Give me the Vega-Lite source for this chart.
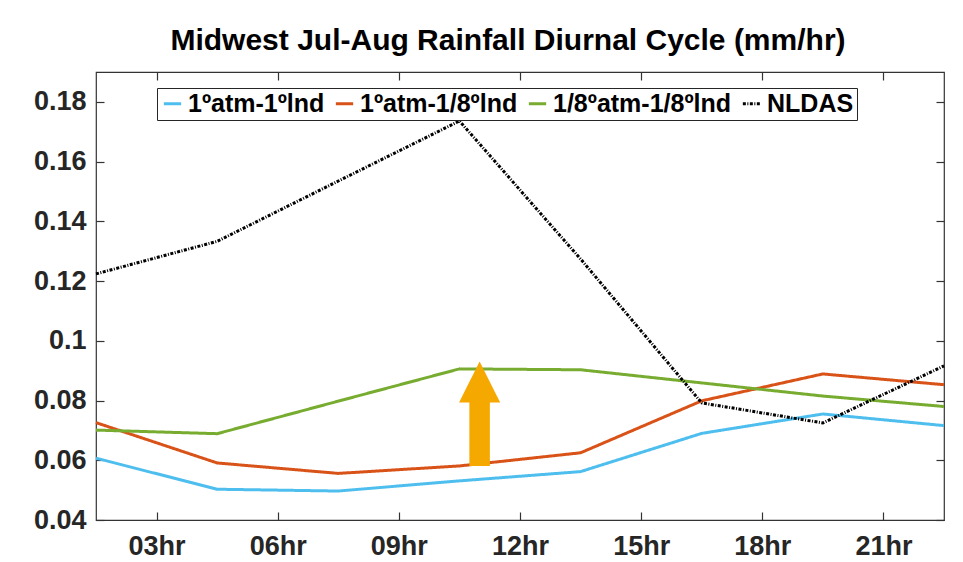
{
  "$schema": "https://vega.github.io/schema/vega-lite/v6.json",
  "autosize": {"type": "none"},
  "width": 848,
  "height": 448,
  "padding": {"left": 96, "top": 72, "right": 19, "bottom": 42},
  "background": "white",
  "title": {
    "text": "Midwest Jul-Aug Rainfall Diurnal Cycle (mm/hr)",
    "font": "Liberation Sans",
    "fontSize": 30,
    "fontWeight": "bold",
    "color": "black",
    "anchor": "middle",
    "dx": -12,
    "offset": 15
  },
  "config": {
    "view": {"stroke": "#333333", "strokeWidth": 1.2},
    "axis": {
      "grid": false,
      "domain": false,
      "tickColor": "#333333",
      "tickWidth": 1.2,
      "labelFont": "Liberation Sans",
      "labelFontWeight": "bold",
      "labelFontSize": 27,
      "labelColor": "#262626",
      "title": null
    }
  },
  "datasets": {
    "series": [
      {"hour": 1.5, "run": "1ºatm-1ºlnd", "rain": 0.0607},
      {"hour": 4.5, "run": "1ºatm-1ºlnd", "rain": 0.0503},
      {"hour": 7.5, "run": "1ºatm-1ºlnd", "rain": 0.0497},
      {"hour": 10.5, "run": "1ºatm-1ºlnd", "rain": 0.0531},
      {"hour": 13.5, "run": "1ºatm-1ºlnd", "rain": 0.0562},
      {"hour": 16.5, "run": "1ºatm-1ºlnd", "rain": 0.0690},
      {"hour": 19.5, "run": "1ºatm-1ºlnd", "rain": 0.0755},
      {"hour": 22.5, "run": "1ºatm-1ºlnd", "rain": 0.0716},
      {"hour": 1.5, "run": "1ºatm-1/8ºlnd", "rain": 0.0726},
      {"hour": 4.5, "run": "1ºatm-1/8ºlnd", "rain": 0.0591},
      {"hour": 7.5, "run": "1ºatm-1/8ºlnd", "rain": 0.0556},
      {"hour": 10.5, "run": "1ºatm-1/8ºlnd", "rain": 0.0581},
      {"hour": 13.5, "run": "1ºatm-1/8ºlnd", "rain": 0.0625},
      {"hour": 16.5, "run": "1ºatm-1/8ºlnd", "rain": 0.0799},
      {"hour": 19.5, "run": "1ºatm-1/8ºlnd", "rain": 0.0889},
      {"hour": 22.5, "run": "1ºatm-1/8ºlnd", "rain": 0.0853},
      {"hour": 1.5, "run": "1/8ºatm-1/8ºlnd", "rain": 0.0701},
      {"hour": 4.5, "run": "1/8ºatm-1/8ºlnd", "rain": 0.0689},
      {"hour": 7.5, "run": "1/8ºatm-1/8ºlnd", "rain": 0.0798},
      {"hour": 10.5, "run": "1/8ºatm-1/8ºlnd", "rain": 0.0906},
      {"hour": 13.5, "run": "1/8ºatm-1/8ºlnd", "rain": 0.0903},
      {"hour": 16.5, "run": "1/8ºatm-1/8ºlnd", "rain": 0.0859},
      {"hour": 19.5, "run": "1/8ºatm-1/8ºlnd", "rain": 0.0815},
      {"hour": 22.5, "run": "1/8ºatm-1/8ºlnd", "rain": 0.0780},
      {"hour": 1.5, "run": "NLDAS", "rain": 0.1224},
      {"hour": 4.5, "run": "NLDAS", "rain": 0.1333},
      {"hour": 7.5, "run": "NLDAS", "rain": 0.1535},
      {"hour": 10.5, "run": "NLDAS", "rain": 0.1736},
      {"hour": 13.5, "run": "NLDAS", "rain": 0.1274},
      {"hour": 16.5, "run": "NLDAS", "rain": 0.0792},
      {"hour": 19.5, "run": "NLDAS", "rain": 0.0725},
      {"hour": 22.5, "run": "NLDAS", "rain": 0.0916}
    ],
    "arrow": [
      {"hour": 11.0, "base": 0.0581, "top": 0.0818, "tip": 0.0862}
    ]
  },
  "resolve": {"axis": {"x": "independent", "y": "independent"}},
  "layer": [
    {
      "data": {"name": "series"},
      "mark": {"type": "line", "strokeCap": "butt", "strokeJoin": "miter"},
      "encoding": {
        "x": {
          "field": "hour", "type": "quantitative",
          "scale": {"domain": [1.5, 22.5], "nice": false, "zero": false},
          "axis": {
            "orient": "bottom",
            "values": [3, 6, 9, 12, 15, 18, 21],
            "labelExpr": "(datum.value < 10 ? '0' : '') + datum.value + 'hr'",
            "tickSize": -8,
            "labelPadding": 21
          }
        },
        "y": {
          "field": "rain", "type": "quantitative",
          "scale": {"domain": [0.04, 0.19], "nice": false, "zero": false},
          "axis": {
            "orient": "left",
            "values": [0.04, 0.06, 0.08, 0.1, 0.12, 0.14, 0.16, 0.18],
            "format": "~g",
            "tickSize": -8,
            "labelPadding": 18
          }
        },
        "color": {
          "field": "run", "type": "nominal",
          "scale": {
            "domain": ["1ºatm-1ºlnd", "1ºatm-1/8ºlnd", "1/8ºatm-1/8ºlnd", "NLDAS"],
            "range": ["#4DBEEE", "#D95319", "#77AC30", "#000000"]
          },
          "legend": {
            "orient": "none",
            "legendX": 61,
            "legendY": 16,
            "direction": "horizontal",
            "columns": 4,
            "title": null,
            "strokeColor": "#262626",
            "fillColor": "white",
            "padding": 3,
            "columnPadding": 4,
            "labelOffset": 3,
            "labelFont": "Liberation Sans",
            "labelFontWeight": "bold",
            "labelFontSize": 25,
            "labelColor": "black",
            "symbolType": "stroke",
            "symbolSize": 300,
            "symbolStrokeWidth": 3,
            "labelLimit": 300
          }
        },
        "strokeDash": {
          "field": "run", "type": "nominal",
          "scale": {
            "domain": ["1ºatm-1ºlnd", "1ºatm-1/8ºlnd", "1/8ºatm-1/8ºlnd", "NLDAS"],
            "range": [[1, 0], [1, 0], [1, 0], [3, 1.5, 1, 1.5]]
          },
          "legend": null
        },
        "strokeWidth": {
          "field": "run", "type": "nominal",
          "scale": {
            "domain": ["1ºatm-1ºlnd", "1ºatm-1/8ºlnd", "1/8ºatm-1/8ºlnd", "NLDAS"],
            "range": [3, 3, 3, 1.1]
          },
          "legend": null
        }
      }
    },
    {
      "data": {"name": "arrow"},
      "layer": [
        {
          "mark": {"type": "rule", "color": "#F5A800", "strokeWidth": 20.5, "strokeCap": "butt"},
          "encoding": {
            "x": {
              "field": "hour", "type": "quantitative",
              "scale": {"domain": [1.5, 22.5], "nice": false, "zero": false},
              "axis": {"orient": "top", "values": [3, 6, 9, 12, 15, 18, 21], "labels": false, "tickSize": -8}
            },
            "y": {
              "field": "base", "type": "quantitative",
              "scale": {"domain": [0.04, 0.19], "nice": false, "zero": false},
              "axis": {"orient": "right", "values": [0.04, 0.06, 0.08, 0.1, 0.12, 0.14, 0.16, 0.18], "labels": false, "tickSize": -8}
            },
            "y2": {"field": "top"}
          }
        },
        {
          "mark": {"type": "point", "shape": "M0,-1L1,1L-1,1Z", "filled": true, "color": "#F5A800", "opacity": 1, "size": 1690, "strokeWidth": 0},
          "encoding": {
            "x": {"field": "hour", "type": "quantitative"},
            "y": {"field": "tip", "type": "quantitative"}
          }
        }
      ]
    }
  ]
}
